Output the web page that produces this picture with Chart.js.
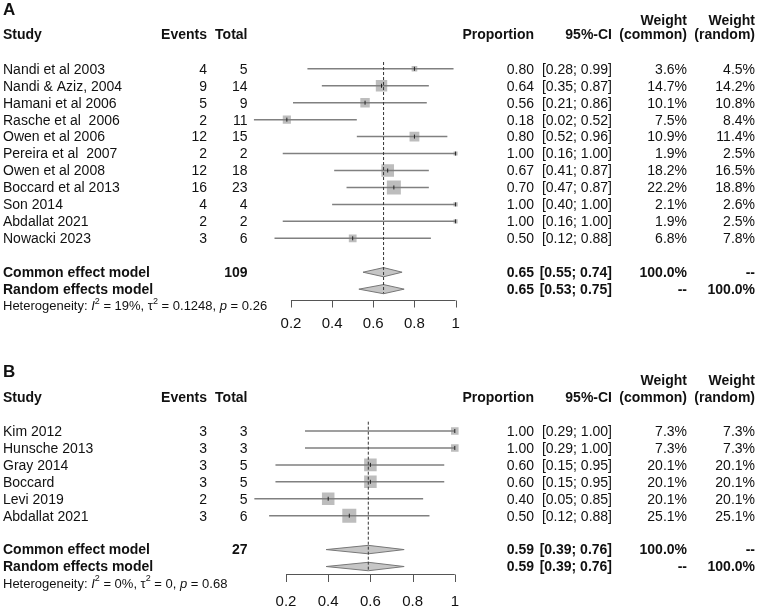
<!DOCTYPE html>
<html>
<head>
<meta charset="utf-8">
<script src="https://cdn.jsdelivr.net/npm/chart.js@4.4.1/dist/chart.umd.min.js"></script>
<style>
  body { margin: 0; background: #fff; width: 760px; height: 609px; overflow: hidden; position: relative; }
  canvas { display: block; position: absolute; left: 0; }
</style>
</head>
<body>
<canvas id="chartA" width="760" height="330" style="top:0"></canvas>
<canvas id="chartB" width="760" height="279" style="top:330px"></canvas>
<script>
// panel A
const studiesA = ['Nandi et al 2003', 'Nandi & Aziz, 2004', 'Hamani et al 2006', 'Rasche et al  2006', 'Owen et al 2006',
  'Pereira et al  2007', 'Owen et al 2008', 'Boccard et al 2013', 'Son 2014', 'Abdallat 2021', 'Nowacki 2023'];
const eventsA = [4, 9, 5, 2, 12, 2, 12, 16, 4, 2, 3];
const totalsA = [5, 14, 9, 11, 15, 2, 18, 23, 4, 2, 6];
const propA = [0.80, 0.64, 0.56, 0.18, 0.80, 1.00, 0.67, 0.70, 1.00, 1.00, 0.50];
const lowerA = [0.28, 0.35, 0.21, 0.02, 0.52, 0.16, 0.41, 0.47, 0.40, 0.16, 0.12];
const upperA = [0.99, 0.87, 0.86, 0.52, 0.96, 1.00, 0.87, 0.87, 1.00, 1.00, 0.88];
const wCommonA = [3.6, 14.7, 10.1, 7.5, 10.9, 1.9, 18.2, 22.2, 2.1, 1.9, 6.8];
const wRandomA = [4.5, 14.2, 10.8, 8.4, 11.4, 2.5, 16.5, 18.8, 2.6, 2.5, 7.8];
const commonA = [0.65, 0.55, 0.74];   // estimate, lower, upper
const randomA = [0.65, 0.53, 0.75];
const totalA = 109;
const hetA = ['19%', '0.1248', '0.26'];

// panel B
const studiesB = ['Kim 2012', 'Hunsche 2013', 'Gray 2014', 'Boccard', 'Levi 2019', 'Abdallat 2021'];
const eventsB = [3, 3, 3, 3, 2, 3];
const totalsB = [3, 3, 5, 5, 5, 6];
const propB = [1.00, 1.00, 0.60, 0.60, 0.40, 0.50];
const lowerB = [0.29, 0.29, 0.15, 0.15, 0.05, 0.12];
const upperB = [1.00, 1.00, 0.95, 0.95, 0.85, 0.88];
const wCommonB = [7.3, 7.3, 20.1, 20.1, 20.1, 25.1];
const wRandomB = [7.3, 7.3, 20.1, 20.1, 20.1, 25.1];
const commonB = [0.59, 0.39, 0.76];
const randomB = [0.59, 0.39, 0.76];
const totalB = 27;
const hetB = ['0%', '0', '0.68'];

const xTicks = [0.2, 0.4, 0.6, 0.8, 1];
const xTickLabels = ['0.2', '0.4', '0.6', '0.8', '1'];

const FONT = '"Liberation Sans", Arial, Helvetica, sans-serif';
const INK = '#111';
const col = { study: 3, events: 207, total: 247.5, prop: 534, ci: 612, wc: 687, wr: 755 };

function ciText(lo, hi) { return '[' + lo.toFixed(2) + '; ' + hi.toFixed(2) + ']'; }
function pct(v) { return v.toFixed(1) + '%'; }

function buildPanel(id, d, L) {
  const wMax = Math.max(...d.wCommon);
  const ciPts = [];
  d.lower.forEach((lo, i) => {
    ciPts.push({ x: lo, y: i }, { x: d.upper[i], y: i }, { x: lo, y: null });
  });
  const sqPts = d.prop.map((p, i) => ({ x: p, y: i }));
  const sqRadius = d.wCommon.map(w => 14 * Math.sqrt(w / wMax) / Math.SQRT2);
  const diamond = (e, row) => [
    { x: e[1], y: row }, { x: e[0], y: row - L.dh }, { x: e[2], y: row },
    { x: e[0], y: row + L.dh }, { x: e[1], y: row }
  ];

  const table = {
    id: 'table' + id,
    afterDraw(chart) {
      const ctx = chart.ctx;
      const xs = chart.scales.x, ys = chart.scales.y;
      const py = r => ys.getPixelForValue(r);
      const txt = (s, x, y, align, font) => {
        ctx.font = font; ctx.textAlign = align; ctx.fillText(s, x, y);
      };
      ctx.save();
      ctx.fillStyle = INK;
      ctx.textBaseline = 'middle';
      const reg = '14px ' + FONT, bold = 'bold 14px ' + FONT;

      txt(L.letter, 3, py(L.letterRow), 'left', 'bold 17px ' + FONT);
      txt('Weight', col.wc, py(L.weightRow), 'right', bold);
      txt('Weight', col.wr, py(L.weightRow), 'right', bold);
      const hy = py(L.headRow);
      txt('Study', col.study, hy, 'left', bold);
      txt('Events', col.events, hy, 'right', bold);
      txt('Total', col.total, hy, 'right', bold);
      txt('Proportion', col.prop, hy, 'right', bold);
      txt('95%-CI', col.ci, hy, 'right', bold);
      txt('(common)', col.wc, hy, 'right', bold);
      txt('(random)', col.wr, hy, 'right', bold);

      d.studies.forEach((s, i) => {
        const y = py(i) + L.textOff;
        txt(s, col.study, y, 'left', reg);
        txt(String(d.events[i]), col.events, y, 'right', reg);
        txt(String(d.totals[i]), col.total, y, 'right', reg);
        txt(d.prop[i].toFixed(2), col.prop, y, 'right', reg);
        txt(ciText(d.lower[i], d.upper[i]), col.ci, y, 'right', reg);
        txt(pct(d.wCommon[i]), col.wc, y, 'right', reg);
        txt(pct(d.wRandom[i]), col.wr, y, 'right', reg);
      });

      let y = py(L.commonRow) + L.textOff;
      txt('Common effect model', col.study, y, 'left', bold);
      txt(String(d.total), col.total, y, 'right', bold);
      txt(d.common[0].toFixed(2), col.prop, y, 'right', bold);
      txt(ciText(d.common[1], d.common[2]), col.ci, y, 'right', bold);
      txt('100.0%', col.wc, y, 'right', bold);
      txt('--', col.wr, y, 'right', bold);
      y = py(L.randomRow) + L.textOff;
      txt('Random effects model', col.study, y, 'left', bold);
      txt(d.random[0].toFixed(2), col.prop, y, 'right', bold);
      txt(ciText(d.random[1], d.random[2]), col.ci, y, 'right', bold);
      txt('--', col.wc, y, 'right', bold);
      txt('100.0%', col.wr, y, 'right', bold);

      // heterogeneity line
      y = py(L.hetRow);
      let x = col.study;
      const hs = 13, small = '9px ' + FONT;
      const part = (s, font, dy) => {
        ctx.font = font; ctx.textAlign = 'left';
        ctx.fillText(s, x, y + (dy || 0));
        x += ctx.measureText(s).width;
      };
      part('Heterogeneity: ', hs + 'px ' + FONT);
      part('I', 'italic ' + hs + 'px ' + FONT);
      part('2', small, -5);
      part(' = ' + d.het[0] + ', \u03c4', hs + 'px ' + FONT);
      part('2', small, -5);
      part(' = ' + d.het[1] + ', ', hs + 'px ' + FONT);
      part('p', 'italic ' + hs + 'px ' + FONT);
      part(' = ' + d.het[2], hs + 'px ' + FONT);

      // x axis
      const ay = Math.round(py(L.axisRow)) + 0.5;
      ctx.strokeStyle = '#555';
      ctx.lineWidth = 1;
      ctx.beginPath();
      ctx.moveTo(xs.getPixelForValue(xTicks[0]), ay);
      ctx.lineTo(xs.getPixelForValue(xTicks[xTicks.length - 1]), ay);
      xTicks.forEach(t => {
        const tx = Math.round(xs.getPixelForValue(t)) + 0.5;
        ctx.moveTo(tx, ay);
        ctx.lineTo(tx, ay + L.tickLen);
      });
      ctx.stroke();
      const ly = py(L.tickLabelRow);
      xTicks.forEach((t, i) => txt(xTickLabels[i], xs.getPixelForValue(t), ly, 'center', '15px ' + FONT));
      ctx.restore();
    }
  };

  const W = 760;
  return new Chart(document.getElementById(id), {
    type: 'scatter',
    data: {
      datasets: [
        { // point estimate marks
          data: sqPts, pointStyle: 'line', pointRotation: 90, pointRadius: 2,
          borderColor: '#222', borderWidth: 1, backgroundColor: '#222'
        },
        { // reference line
          type: 'line', data: [{ x: d.common[0], y: L.dashTop }, { x: d.common[0], y: L.dashBottom }],
          borderColor: '#333', borderWidth: 1, borderDash: [3, 2], pointRadius: 0, fill: false
        },
        { // confidence intervals
          type: 'line', data: ciPts, borderColor: '#808080', borderWidth: 1.5, pointRadius: 0, fill: false
        },
        { // weight squares
          data: sqPts, pointStyle: 'rect', pointRadius: sqRadius, borderWidth: 0,
          backgroundColor: '#bdbdbd', borderColor: '#bdbdbd'
        },
        {
          type: 'line', data: diamond(d.common, L.commonRow), borderColor: '#777', borderWidth: 1,
          backgroundColor: '#c6c6c6', fill: 'shape', pointRadius: 0, tension: 0
        },
        {
          type: 'line', data: diamond(d.random, L.randomRow), borderColor: '#777', borderWidth: 1,
          backgroundColor: '#c6c6c6', fill: 'shape', pointRadius: 0, tension: 0
        }
      ]
    },
    options: {
      responsive: false,
      animation: false,
      events: [],
      layout: {
        autoPadding: false,
        padding: {
          left: L.x0,
          right: W - (L.x0 + L.xMax * L.ppu),
          top: L.p0 + L.yMin * L.s,
          bottom: L.H - (L.p0 + L.yMax * L.s)
        }
      },
      scales: {
        x: { type: 'linear', min: 0, max: L.xMax, display: false },
        y: { type: 'linear', min: L.yMin, max: L.yMax, reverse: true, display: false }
      },
      plugins: { legend: { display: false }, tooltip: { enabled: false } }
    },
    plugins: [table]
  });
}

buildPanel('chartA', {
  studies: studiesA, events: eventsA, totals: totalsA, prop: propA, lower: lowerA, upper: upperA,
  wCommon: wCommonA, wRandom: wRandomA, common: commonA, random: randomA, total: totalA, het: hetA
}, {
  letter: 'A', x0: 249.8, ppu: 205.8, xMax: 1.05, p0: 68.8, s: 16.95, H: 330, yMin: -4, yMax: 15,
  letterRow: -3.45, weightRow: -2.84, headRow: -1.99, textOff: 1,
  commonRow: 12, randomRow: 13, hetRow: 14, axisRow: 13.66, tickLabelRow: 15.02, tickLen: 7,
  dashTop: -0.4, dashBottom: 13.25, dh: 0.27
});

buildPanel('chartB', {
  studies: studiesB, events: eventsB, totals: totalsB, prop: propB, lower: lowerB, upper: upperB,
  wCommon: wCommonB, wRandom: wRandomB, common: commonB, random: randomB, total: totalB, het: hetB
}, {
  letter: 'B', x0: 243.8, ppu: 211, xMax: 1.05, p0: 101, s: 16.94, H: 279, yMin: -5.9, yMax: 9.5,
  letterRow: -3.45, weightRow: -2.97, headRow: -1.93, textOff: 1,
  commonRow: 7, randomRow: 8, hetRow: 9.03, axisRow: 8.44, tickLabelRow: 10.08, tickLen: 7.5,
  dashTop: -0.55, dashBottom: 8.2, dh: 0.25
});
</script>
</body>
</html>
